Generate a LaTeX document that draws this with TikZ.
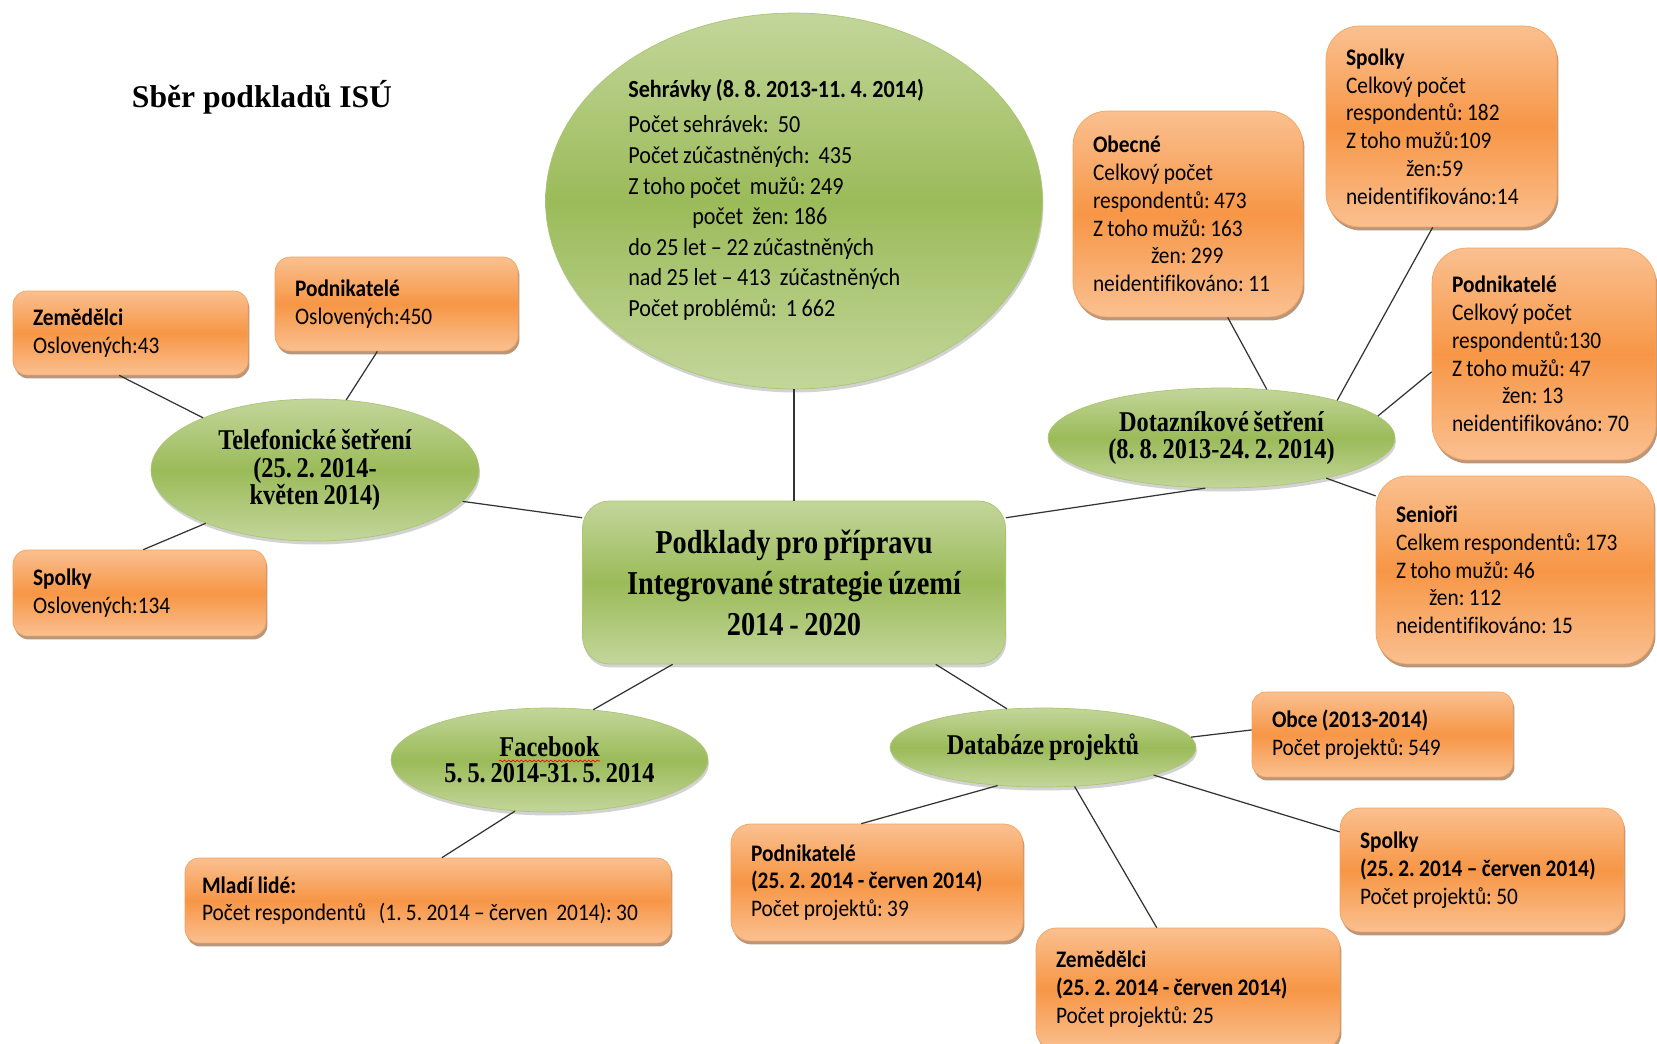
\documentclass[tikz,border=0pt]{standalone}
\usepackage{fontspec}
\setmainfont{Liberation Serif}
\newfontfamily\boxfont{Carlito}[FakeStretch=0.9, WordSpace=0.9, Ligatures={TeX,NoCommon}]
\newfontfamily\ovalfont{Liberation Serif}[FakeStretch=0.85, WordSpace=0.8, Ligatures=TeX]
\usetikzlibrary{shapes.geometric,shadows,decorations.pathmorphing}
\definecolor{orlight}{HTML}{FAC090}
\definecolor{ormid}{HTML}{F79646}
\definecolor{grlight}{HTML}{C3D69B}
\definecolor{grmid}{HTML}{9BBB59}
\tikzset{
  box/.style={rectangle, top color=orlight, bottom color=orlight, middle color=ormid,
    draw=ormid!70!orlight, line width=0.4pt, align=flush left, inner xsep=0.4cm, inner ysep=0pt,
    font=\boxfont\fontsize{13.5}{15.8}\selectfont,
    drop shadow={shadow xshift=0.03cm, shadow yshift=-0.07cm, fill=ormid!55!black, opacity=0.6}},
  oval/.style={ellipse, inner sep=0pt, top color=grlight, bottom color=grlight, middle color=grmid,
    draw=grmid!60!grlight, line width=0.4pt, align=center,
    font=\ovalfont\bfseries\fontsize{16.3}{15.9}\selectfont,
    drop shadow={shadow xshift=0.02cm, shadow yshift=-0.07cm, opacity=0.35}},
}
\begin{document}
\frenchspacing
\begin{tikzpicture}[x=0.02cm, y=-0.02cm]
  \path[use as bounding box, fill=white] (0,0) rectangle (1657,1044);
  \node (title) at (262,97) {\bfseries\fontsize{18}{20}\selectfont Sběr podkladů ISÚ};

  \node[oval, minimum width=9.94cm, minimum height=7.52cm] (seh) at (794,201) {};
  \node[anchor=west, align=left, inner sep=0pt, font=\boxfont\fontsize{14}{17.4}\selectfont] (sehtext) at (628,200)
    {\textbf{Sehrávky (8. 8. 2013-11. 4. 2014)}\\[2.5pt]
     Počet sehrávek:\ \ 50\\
     Počet zúčastněných:\ \ 435\\
     Z toho počet\ \ mužů: 249\\
     \hspace*{1.28cm}počet\ \ žen: 186\\
     do 25 let – 22 zúčastněných\\
     nad 25 let – 413\ \ zúčastněných\\
     Počet problémů:\ \ 1 662};

  \node[rectangle, rounded corners=0.54cm, top color=grlight, bottom color=grlight, middle color=grmid,
    draw=grmid!60!grlight, line width=0.4pt, minimum width=8.46cm, minimum height=3.26cm, align=center,
    font=\ovalfont\bfseries\fontsize{19}{23.3}\selectfont,
    drop shadow={shadow xshift=0.02cm, shadow yshift=-0.07cm, opacity=0.35}] (main) at (794,582.5)
    {Podklady pro přípravu\\Integrované strategie území\\2014 - 2020};

  \node[oval, minimum width=6.56cm, minimum height=2.84cm] (tel) at (315,470)
    {Telefonické šetření\\(25. 2. 2014-\\květen 2014)};
  \node[box, rounded corners=0.28cm, text width=3.9cm, minimum height=1.68cm] (tzem) at (130.5,333)
    {\textbf{Zemědělci}\\Oslovených:43};
  \node[box, rounded corners=0.31cm, text width=4.06cm, minimum height=1.88cm] (tpod) at (396.5,304)
    {\textbf{Podnikatelé}\\Oslovených:450};
  \node[box, rounded corners=0.29cm, text width=4.26cm, minimum height=1.72cm] (tspo) at (139.5,593)
    {\textbf{Spolky}\\Oslovených:134};

  \node[oval, minimum width=6.34cm, minimum height=2.08cm, font=\ovalfont\bfseries\fontsize{16.3}{15}\selectfont] (fb) at (549.5,760)
    {Facebook\\5. 5. 2014-31. 5. 2014};
  \draw[red, line width=0.4pt, decorate, decoration={snake, amplitude=0.5pt, segment length=2.4pt}] (499,761) -- (600,761);
  \node[box, rounded corners=0.28cm, inner xsep=0.34cm, text width=9.04cm, minimum height=1.7cm] (mladi) at (428,900.5)
    {\textbf{Mladí lidé:}\\Počet respondentů\ \ \ (1. 5. 2014 – červen\ \ 2014): 30};

  \node[oval, minimum width=6.12cm, minimum height=1.58cm] (db) at (1043,747.5) {Databáze projektů};
  \node[box, rounded corners=0.28cm, text width=4.42cm, minimum height=1.7cm] (obce) at (1382.5,734.5)
    {\textbf{Obce (2013-2014)}\\Počet projektů: 549};
  \node[box, rounded corners=0.41cm, text width=4.88cm, minimum height=2.48cm] (dspo) at (1482,870)
    {\textbf{Spolky}\\\textbf{(25. 2. 2014 – červen 2014)}\\Počet projektů: 50};
  \node[box, rounded corners=0.39cm, text width=5.04cm, minimum height=2.34cm] (dpod) at (877,882.5)
    {\textbf{Podnikatelé}\\\textbf{(25. 2. 2014 - červen 2014)}\\Počet projektů: 39};
  \node[box, rounded corners=0.41cm, text width=5.28cm, minimum height=2.44cm] (dzem) at (1188,989)
    {\textbf{Zemědělci}\\\textbf{(25. 2. 2014 - červen 2014)}\\Počet projektů: 25};

  \node[oval, minimum width=6.94cm, minimum height=2cm, font=\ovalfont\bfseries\fontsize{16.3}{15.4}\selectfont] (dot) at (1221.5,438)
    {Dotazníkové šetření\\(8. 8. 2013-24. 2. 2014)};
  \node[box, rounded corners=0.69cm, text width=3.8cm, minimum height=4.12cm] (obec) at (1188,214)
    {\textbf{Obecné}\\Celkový počet\\respondentů: 473\\Z toho mužů: 163\\\hspace*{1.16cm}žen: 299\\neidentifikováno: 11};
  \node[box, rounded corners=0.67cm, text width=3.82cm, minimum height=4.02cm] (dspol) at (1441.5,126.5)
    {\textbf{Spolky}\\Celkový počet\\respondentů: 182\\Z toho mužů:109\\\hspace*{1.2cm}žen:59\\neidentifikováno:14};
  \node[box, rounded corners=0.7cm, text width=3.68cm, minimum height=4.24cm] (dpodn) at (1544,354)
    {\textbf{Podnikatelé}\\Celkový počet\\respondentů:130\\Z toho mužů: 47\\\hspace*{1.0cm}žen: 13\\neidentifikováno: 70};
  \node[box, rounded corners=0.63cm, text width=4.76cm, minimum height=3.76cm] (seni) at (1515,570)
    {\textbf{Senioři}\\Celkem respondentů: 173\\Z toho mužů: 46\\\hspace*{0.66cm}žen: 112\\neidentifikováno: 15};

  \begin{scope}[line width=0.7pt, black!80]
    \draw (seh.south) to (main.north);
    \draw (main.163) to (tel.-12);
    \draw (main.17) to (dot.252);
    \draw (main.214) to (fb.49);
    \draw (main.-30) to (db.133);
    \draw (fb.236) to (mladi.72);
    \draw (db.4) to (obce.178);
    \draw (db.-14) to (dspo.165);
    \draw (db.220) to (dpod.105);
    \draw (db.-51) to (dzem.117);
    \draw (dot.47) to (obec.-69);
    \draw (dot.18) to (dspol.265);
    \draw (dot.8) to (dpodn.189);
    \draw (dot.-21) to (seni.152);
    \draw (tel.155) to (tzem.255);
    \draw (tel.66) to (tpod.248);
    \draw (tel.206) to (tspo.85);
  \end{scope}
\end{tikzpicture}
\end{document}
